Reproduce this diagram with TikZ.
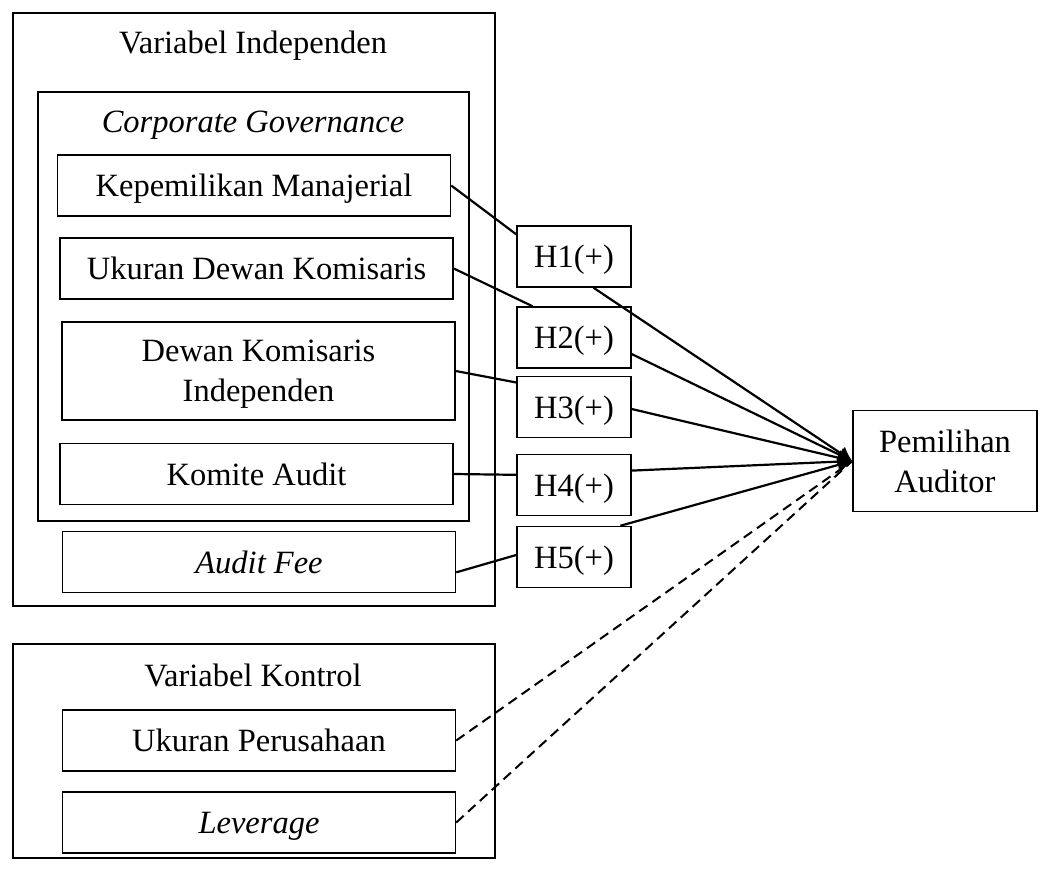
\documentclass[tikz,border=0pt]{standalone}
\usepackage{fontspec}
\setmainfont{Liberation Serif}
\usetikzlibrary{positioning, arrows.meta}

\begin{document}
\begin{tikzpicture}[
        x=0.5pt, y=-0.5pt,
        every node/.style={font=\fontsize{16.25}{20}\selectfont, text depth=0pt},
        groupbox/.style={draw, line width=0.75pt, anchor=north west, inner sep=0pt},
        varbox/.style={draw, line width=0.75pt, minimum width=196.5pt, minimum height=30.5pt, align=center, inner sep=0pt},
        hypbox/.style={draw, line width=0.75pt, minimum width=57pt, minimum height=30.5pt, inner sep=0pt},
        link/.style={line width=1.1pt},
        effect/.style={line width=1.1pt, -{Latex[length=7pt,width=8pt]}},
        control/.style={line width=1pt, dash pattern=on 5pt off 3pt}
    ]
    \useasboundingbox (0,0) rectangle (1049,868);

    % Groups
    \node (indep) [groupbox, minimum width=241pt, minimum height=296.5pt] at (12,12) {};
    \node (cg) [groupbox, minimum width=215.5pt, minimum height=214.5pt] at (37,91) {};
    \node (kontrol) [groupbox, minimum width=241pt, minimum height=107pt] at (12,643) {};
    \node (indeptitle) at (253,42) {Variabel Independen};
    \node (cgtitle) at (253,122) {\itshape Corporate Governance};
    \node (kontroltitle) at (253,675) {Variabel Kontrol};

    % Variables
    \node (kep) [varbox] at (254,185.5) {Kepemilikan Manajerial};
    \node (udk) [varbox] at (256.5,268.5) {Ukuran Dewan Komisaris};
    \node (dki) [varbox, minimum height=49pt] at (258.5,371) {Dewan Komisaris\\Independen};
    \node (ka) [varbox] at (256.5,474) {Komite Audit};
    \node (fee) [varbox] at (259,562) {\itshape Audit Fee};
    \node (up) [varbox] at (259,740.5) {Ukuran Perusahaan};
    \node (lev) [varbox] at (259,822.5) {\itshape Leverage};

    % Hypotheses
    \node (h1) [hypbox] at (574,256.5) {H1(+)};
    \node (h2) [hypbox] at (574,337.5) {H2(+)};
    \node (h3) [hypbox] at (574,407) {H3(+)};
    \node (h4) [hypbox] at (574,485) {H4(+)};
    \node (h5) [hypbox] at (574,557) {H5(+)};

    \node (pa) [varbox, minimum width=92pt, minimum height=50.5pt] at (945,461) {Pemilihan\\Auditor};

    % Arrows
    \draw[link] (kep.east) -- (h1.159);
    \draw[link] (udk.east) -- (h2.143);
    \draw[link] (dki.east) -- (h3.157);
    \draw[link] (ka.east) -- (h4.170);
    \draw[link] (fee.-3) -- (h5.178);

    \draw[effect] (h1.-58) -- (pa.west);
    \draw[effect] (h2.-16) -- (pa.west);
    \draw[effect] (h3.-2) -- (pa.west);
    \draw[effect] (h4.14) -- (pa.west);
    \draw[effect] (h5.34) -- (pa.west);

    \draw[control] (up.east) -- (pa.west);
    \draw[control] (lev.east) -- (pa.west);

\end{tikzpicture}
\end{document}
